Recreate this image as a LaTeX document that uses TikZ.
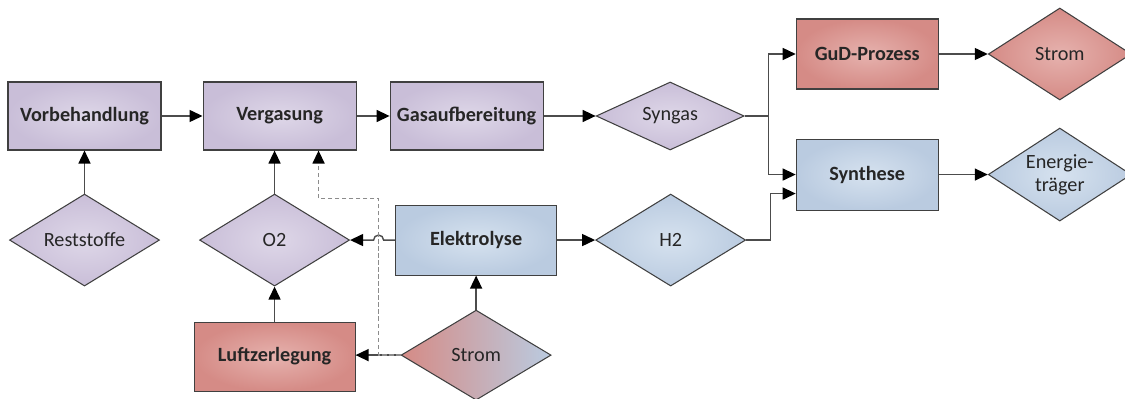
\documentclass[tikz,border=0pt]{standalone}
\usepackage{fontspec}
\setmainfont{Carlito}
\usetikzlibrary{arrows.meta,positioning,shapes.geometric}

\definecolor{lilaHell}{HTML}{DED7E8}
\definecolor{lilaDunkel}{HTML}{C9BED8}
\definecolor{rotHell}{HTML}{E6B2AE}
\definecolor{rotDunkel}{HTML}{D58B86}
\definecolor{blauHell}{HTML}{D6E2EF}
\definecolor{blauDunkel}{HTML}{BACBE0}

\begin{document}
\begin{tikzpicture}[
  kasten/.style={draw=black!75, line width=0.6pt, align=center, minimum width=3.06cm, minimum height=1.36cm, font=\fontsize{11.5}{13}\selectfont\bfseries, text=black!85},
  raute/.style={diamond, aspect=1.55, draw=black!75, line width=0.6pt, align=center, inner sep=0pt, minimum width=3.0cm, minimum height=1.84cm, font=\fontsize{11.5}{13}\selectfont, text=black!85},
  lila/.style={inner color=lilaHell, outer color=lilaDunkel},
  rot/.style={inner color=rotHell, outer color=rotDunkel},
  blau/.style={inner color=blauHell, outer color=blauDunkel},
  pfeil/.style={-{Triangle[length=2.6mm, width=2.4mm, color=black]}, line width=0.8pt, draw=black!70},
  strich/.style={pfeil, draw=black!45, dash pattern=on 2.5pt off 1.5pt}
]
\useasboundingbox (0,0) rectangle (22.5,-7.98);

% obere Prozesskette
\node[kasten, lila] (vorb) at (1.69,-2.32) {Vorbehandlung};
\node[kasten, lila, right=0.82cm of vorb] (verg) {Vergasung};
\node[kasten, lila, right=0.66cm of verg] (gasauf) {Gasaufbereitung};
\node[raute, lila, right=1.04cm of gasauf, minimum width=2.96cm, minimum height=1.36cm] (syngas) {Syngas};
\node[kasten, rot, right=1.02cm of syngas.east, yshift=1.24cm, minimum width=2.84cm, minimum height=1.4cm] (gud) {GuD-Prozess};
\node[kasten, blau, below=0.98cm of gud, minimum width=2.84cm, minimum height=1.42cm] (synthese) {Synthese};
\node[raute, rot, right=0.98cm of gud, minimum width=2.86cm] (stromoben) {Strom};
\node[raute, blau, right=0.98cm of synthese, minimum width=2.86cm, minimum height=1.86cm] (energie) {Energie-\\tr\"ager};

% Einsatzstoffe und Elektrolyse
\node[raute, lila, below=0.86cm of vorb] (reststoffe) {Reststoffe};
\node[raute, lila, below=0.86cm of verg, xshift=-0.1cm] (o2) {O2};
\node[kasten, blau, right=0.9cm of o2, minimum width=3.22cm, minimum height=1.4cm] (elektrolyse) {Elektrolyse};
\node[raute, blau, right=0.76cm of elektrolyse] (h2) {H2};
\node[kasten, rot, below=0.7cm of o2, minimum width=3.22cm, minimum height=1.38cm] (luft) {Luftzerlegung};
\node[raute, below=0.68cm of elektrolyse, minimum height=1.8cm, left color=rotDunkel, right color=blauDunkel] (stromunten) {Strom};

% Hilfspunkte fuer Knicke
\coordinate[right=0.48cm of syngas.east] (knickS);
\coordinate[right=0.48cm of h2.east] (knickH);
\coordinate[left=0.44cm of stromunten.west] (knickD);
\coordinate (sprung) at (knickD |- elektrolyse.west);

\draw[pfeil] (vorb) -- (verg);
\draw[pfeil] (verg) -- (gasauf);
\draw[pfeil] (gasauf) -- (syngas);
\draw[pfeil] (syngas.east) -- (knickS) |- (gud.west);
\draw[pfeil] (knickS) |- (synthese.west);
\draw[pfeil] (h2.east) -- (knickH) |- ([yshift=-0.38cm]synthese.west);
\draw[pfeil] (gud) -- (stromoben);
\draw[pfeil] (synthese) -- (energie);
\draw[pfeil] (reststoffe) -- (vorb);
\draw[pfeil] (o2.north) -- (o2.north |- verg.south);
\draw[pfeil] (luft) -- (o2);
\draw[pfeil] (elektrolyse.west) -- ([xshift=0.1cm]sprung) arc[start angle=0, end angle=180, radius=0.1cm] -- (o2.east);
\draw[pfeil] (elektrolyse) -- (h2);
\draw[pfeil] (stromunten) -- (elektrolyse);
\draw[pfeil] (stromunten.west) -- (stromunten.west -| luft.east);
\draw[strich] (stromunten.west) -- (knickD) |- ([xshift=0.78cm, yshift=-0.96cm]verg.south) -- ([xshift=0.78cm]verg.south);
\end{tikzpicture}
\end{document}
